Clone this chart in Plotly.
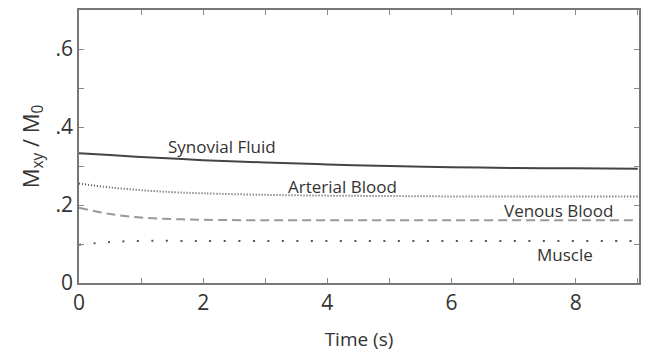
import plotly.graph_objects as go

time_s = [0, 0.5, 1, 1.5, 2, 3, 4, 5, 6, 7, 8, 9]
synovial = [0.333, 0.328, 0.323, 0.319, 0.315, 0.309, 0.304, 0.300, 0.297, 0.295, 0.294, 0.293]
arterial = [0.255, 0.245, 0.238, 0.233, 0.230, 0.226, 0.224, 0.223, 0.222, 0.222, 0.222, 0.222]
venous = [0.193, 0.177, 0.168, 0.164, 0.162, 0.161, 0.161, 0.161, 0.161, 0.161, 0.161, 0.161]
muscle = [0.098, 0.105, 0.108, 0.108, 0.108, 0.108, 0.108, 0.108, 0.108, 0.108, 0.108, 0.108]

labels = ["Synovial Fluid", "Arterial Blood", "Venous Blood", "Muscle"]
label_x = [2.3, 4.24, 7.72, 7.82]
label_y = [0.35, 0.247, 0.186, 0.074]

x_tickvals = [0, 2, 4, 6, 8]
x_ticktext = ["0", "2", "4", "6", "8"]
y_tickvals = [0, 0.2, 0.4, 0.6]
y_ticktext = ["0", ".2", ".4", ".6"]

fig = go.Figure()
fig.add_trace(go.Scatter(x=time_s, y=synovial, mode="lines", line=dict(color="#444", width=2), line_shape="spline"))
fig.add_trace(go.Scatter(x=time_s, y=arterial, mode="lines", line=dict(color="#555", width=2, dash="1px,2px"), line_shape="spline"))
fig.add_trace(go.Scatter(x=time_s, y=venous, mode="lines", line=dict(color="#999", width=2, dash="9px,5px"), line_shape="spline"))
fig.add_trace(go.Scatter(x=time_s, y=muscle, mode="lines", line=dict(color="#555", width=2, dash="2px,12.5px"), line_shape="spline"))

for t, xx, yy in zip(labels, label_x, label_y):
    fig.add_annotation(x=xx, y=yy, text=t, showarrow=False, font=dict(family="Open Sans", size=17, color="#333"))

axis_common = dict(showline=True, linecolor="#777", linewidth=1.5, mirror="ticks", ticks="inside",
                   ticklen=5, tickcolor="#888", showgrid=False, zeroline=False,
                   tickfont=dict(family="Open Sans", size=21, color="#333"))

fig.update_xaxes(range=[0, 9.02], tickvals=x_tickvals, ticktext=x_ticktext,
                 minor=dict(ticks="inside", ticklen=5, tickcolor="#888", dtick=1, tick0=0),
                 title=dict(text="Time (s)", font=dict(family="Open Sans", size=19, color="#333"), standoff=18),
                 **axis_common)
fig.update_yaxes(range=[0, 0.7], tickvals=y_tickvals, ticktext=y_ticktext,
                 minor=dict(ticks="inside", ticklen=5, tickcolor="#888", dtick=0.1, tick0=0),
                 title=dict(text="M<sub>xy</sub> / M<sub>0</sub>", font=dict(family="Open Sans", size=22, color="#333"), standoff=10),
                 **axis_common)

fig.update_layout(width=648, height=364, margin=dict(l=79, r=7, t=10, b=81),
                  plot_bgcolor="white", paper_bgcolor="white", showlegend=False)

fig.write_html("out.html")
